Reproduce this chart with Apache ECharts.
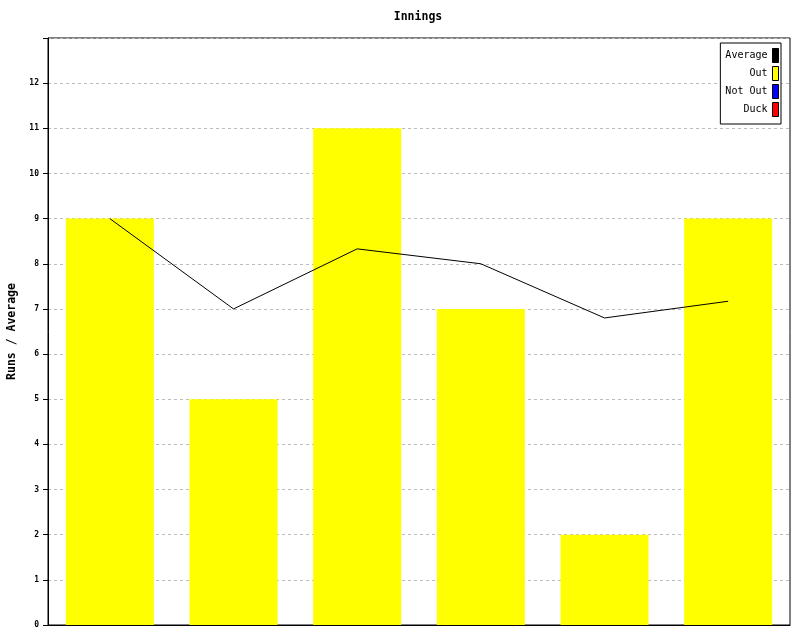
<!DOCTYPE html>
<html>
<head>
<meta charset="utf-8">
<script src="https://cdn.jsdelivr.net/npm/echarts@6/dist/echarts.min.js"></script>
<style>
html,body{margin:0;padding:0;background:#fff;}
#chart{width:800px;height:640px;}
</style>
</head>
<body>
<div id="chart"></div>
<script>
const categories = ['1', '2', '3', '4', '5', '6'];
const outRuns = [9, 5, 11, 7, 2, 9];
const notOutRuns = [];
const duckRuns = [];
const average = [9, 7, 8.33, 8, 6.8, 7.17];
const yMin = 0, yMax = 13, yStep = 1;

const FONT = '"DejaVu Sans Mono", "Liberation Mono", monospace';
const chart = echarts.init(document.getElementById('chart'), null, {renderer: 'canvas'});
chart.setOption({
  animation: false,
  backgroundColor: '#fff',
  graphic: [{
    type: 'text', x: 418, y: 17,
    style: {text: 'Innings', align: 'center', verticalAlign: 'middle',
      font: 'bold 11.5px ' + FONT, fill: '#000'}
  }],
  grid: {left: 48, right: 10, top: 38, bottom: 15, show: true,
    containLabel: false, outerBoundsMode: 'none',
    borderColor: '#000', borderWidth: 1, backgroundColor: 'transparent'},
  legend: {
    orient: 'vertical', right: 19, top: 43, align: 'right',
    data: [
      {name: 'Average', icon: 'rect'},
      {name: 'Out', icon: 'rect'},
      {name: 'Not Out', icon: 'rect'},
      {name: 'Duck', icon: 'rect'}
    ],
    itemWidth: 6, itemHeight: 14, itemGap: 3,
    padding: [5, 2, 7, 5],
    borderColor: '#000', borderWidth: 1, backgroundColor: '#fff',
    itemStyle: {borderColor: '#000', borderWidth: 1},
    textStyle: {fontFamily: FONT, fontSize: 10, color: '#000'},
    selectedMode: false
  },
  xAxis: {
    type: 'category', data: categories, boundaryGap: true,
    axisLine: {show: true, lineStyle: {color: '#000', width: 1}},
    axisTick: {show: false}, axisLabel: {show: false}, splitLine: {show: false}
  },
  yAxis: {
    type: 'value', min: yMin, max: yMax, interval: yStep,
    name: 'Runs / Average', nameLocation: 'middle', nameGap: 26, nameRotate: 90,
    nameTextStyle: {fontFamily: FONT, fontSize: 11.5, fontWeight: 'bold', color: '#000'},
    axisLine: {show: true, lineStyle: {color: '#000', width: 1}},
    axisTick: {show: true, inside: false, length: 5, lineStyle: {color: '#000'}},
    axisLabel: {margin: 9, fontFamily: FONT, fontSize: 8, fontWeight: 'bold', color: '#000',
      formatter: v => (v >= yMax ? '' : String(v))},
    splitLine: {show: true, lineStyle: {color: '#bbbbbb', type: [3, 3], width: 1}}
  },
  series: [
    {name: 'Average', type: 'line', data: average, symbol: 'none', z: 5,
      itemStyle: {color: '#000'}, lineStyle: {color: '#000', width: 1}},
    {name: 'Out', type: 'bar', stack: 'r', data: outRuns, barWidth: 88,
      itemStyle: {color: '#ffff00'}},
    {name: 'Not Out', type: 'bar', stack: 'r', data: notOutRuns, barWidth: 88,
      itemStyle: {color: '#0000ff'}},
    {name: 'Duck', type: 'bar', stack: 'r', data: duckRuns, barWidth: 88,
      itemStyle: {color: '#ff0000'}}
  ]
});
</script>
</body>
</html>
